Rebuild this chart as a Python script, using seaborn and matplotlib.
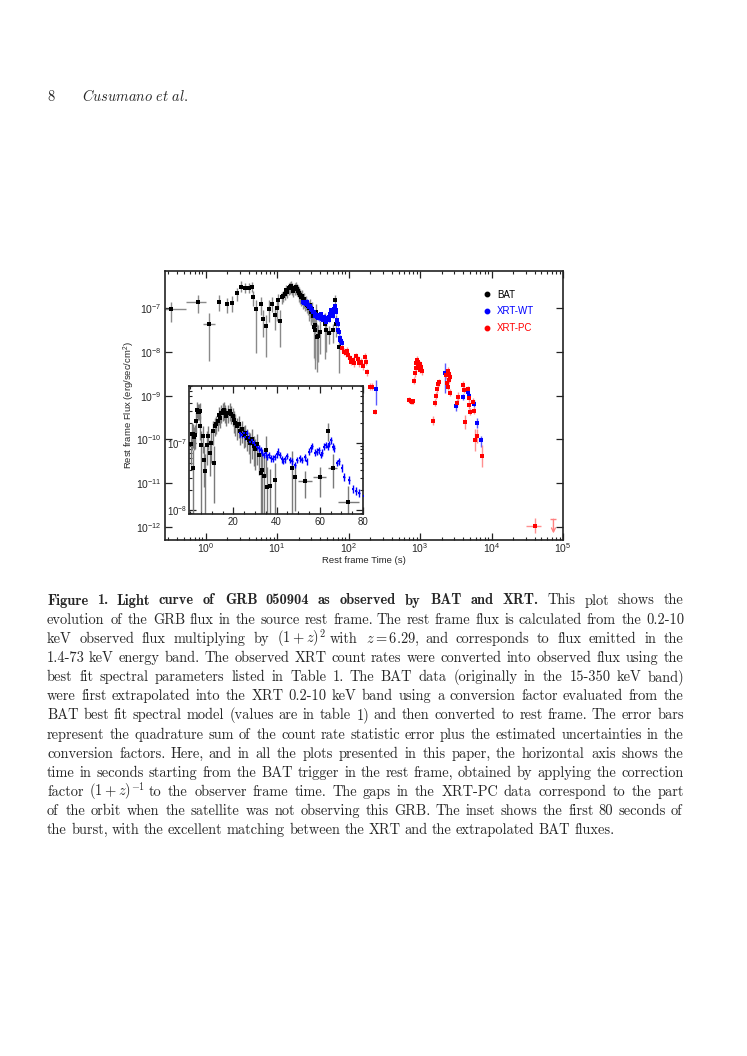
import numpy as np
import pandas as pd
import matplotlib
matplotlib.use('Agg')
import matplotlib.pyplot as plt
from matplotlib.lines import Line2D
from matplotlib.ticker import LogLocator, MultipleLocator, NullFormatter
from matplotlib.textpath import TextPath
from matplotlib.font_manager import FontProperties
import seaborn as sns

# ---- BAT (extrapolated to 0.2-10 keV, rest frame) ----
bat_time = [0.33, 0.77, 1.12, 1.55, 1.97, 2.36, 2.77, 3.15, 3.59, 4.0,
            4.4, 4.65, 5.1, 5.9, 6.3, 7.0, 7.8, 8.5, 9.3, 9.8,
            10.4, 10.9, 11.6, 12.2, 12.7, 13.2, 13.7, 14.4, 15.0, 15.7,
            16.2, 16.7, 17.5, 18.3, 19.0, 19.7, 20.3, 20.9, 21.7, 22.5,
            23.3, 24.0, 24.8, 25.6, 26.4, 27.1, 27.9, 28.6, 29.4, 30.2,
            31.0, 31.8, 32.6, 33.3, 34.1, 34.9, 35.7, 36.9, 39.5, 47.3,
            48.4, 53.2, 60.0, 63.8, 65.9, 73.2]
bat_flux_e8 = [9.5, 13.7, 4.3, 13.5, 12.3, 13.0, 21.6, 30.7, 29.0, 29.0,
               30.0, 17.7, 9.4, 12.6, 5.6, 3.8, 9.4, 12.6, 7.1, 10.0,
               15.0, 5.0, 17.7, 19.0, 21.0, 26.0, 23.6, 28.0, 29.7, 31.0,
               28.0, 25.0, 28.0, 29.7, 27.0, 25.0, 22.0, 20.0, 17.7, 19.0,
               15.0, 16.0, 13.3, 14.0, 11.9, 11.0, 10.0, 11.5, 8.9, 8.0,
               9.5, 6.7, 3.6, 4.0, 3.2, 7.9, 2.2, 2.3, 2.8, 4.3,
               3.1, 2.7, 3.1, 15.0, 4.3, 1.3]
bat_terr = [0.2, 0.24, 0.21, 0, 0, 0, 0, 0, 0, 0,
            0, 0, 0, 0, 0, 0, 0, 0, 0, 0,
            0, 0, 0, 0, 0, 0, 0, 0, 0, 0,
            0, 0, 0, 0, 0, 0, 0, 0, 0, 0,
            0, 0, 0, 0, 0, 0, 0, 0, 0, 0,
            0, 0, 0, 0, 0, 0, 0, 0, 0, 0,
            0, 3.1, 3.1, 0, 2.3, 4.8]
bat_err_hi = [0.16, 0.16, 0.26, 0.16, 0.15, 0.15, 0.13, 0.12, 0.12, 0.12,
              0.12, 0.15, 0.2, 0.15, 0.2, 0.25, 0.2, 0.15, 0.2, 0.18,
              0.15, 0.25, 0.12, 0.12, 0.12, 0.12, 0.12, 0.12, 0.12, 0.12,
              0.12, 0.12, 0.12, 0.12, 0.12, 0.12, 0.13, 0.13, 0.13, 0.13,
              0.13, 0.13, 0.13, 0.13, 0.13, 0.13, 0.15, 0.15, 0.15, 0.15,
              0.15, 0.15, 0.3, 0.3, 0.3, 0.2, 0.3, 0.25, 0.25, 0.25,
              0.2, 0.15, 0.15, 0.12, 0.2, 0.25]
bat_err_lo = [0.3, 0.24, 0.84, 0.2, 0.2, 0.2, 0.18, 0.12, 0.12, 0.12,
              0.12, 0.2, 1.0, 0.25, 0.4, 0.7, 0.3, 0.2, 0.35, 0.3,
              0.2, 0.6, 0.15, 0.15, 0.15, 0.15, 0.15, 0.15, 0.15, 0.15,
              0.15, 0.15, 0.15, 0.15, 0.15, 0.15, 0.2, 0.2, 0.2, 0.2,
              0.2, 0.2, 0.2, 0.2, 0.2, 0.2, 0.3, 0.3, 0.3, 0.3,
              0.3, 0.3, 0.7, 0.8, 0.9, 0.4, 0.8, 0.6, 0.5, 0.8,
              0.5, 0.25, 0.3, 0.15, 0.3, 0.6]

# ---- XRT Windowed Timing ----
wt_time = [23.3, 24.1, 24.8, 25.6, 26.3, 27.1, 27.9, 28.6, 29.4, 30.2,
           31.0, 31.8, 32.6, 33.3, 34.1, 34.9, 35.7, 36.5, 37.5, 38.4,
           39.2, 40.0, 40.8, 41.6, 42.3, 43.1, 43.9, 45.0, 46.2, 47.3,
           48.4, 49.6, 50.8, 51.9, 53.0, 53.9, 55.0, 55.8, 56.6, 57.7,
           58.6, 59.5, 60.5, 61.2, 62.0, 62.8, 63.6, 64.3, 65.1, 65.9,
           66.7, 67.9, 69.0, 70.1, 71.3, 73.4, 75.2, 76.7, 78.3, 80.3,
           242, 2250, 3140, 3940, 4720, 4910, 5600, 6250, 7100]
wt_flux_e8 = [14.0, 13.1, 14.0, 12.4, 14.0, 11.7, 10.5, 11.0, 9.9, 9.3,
              8.8, 8.3, 7.9, 7.2, 6.6, 7.0, 6.2, 6.6, 5.9, 5.8,
              6.2, 6.8, 7.4, 6.6, 5.7, 5.4, 5.7, 6.4, 5.6, 5.3,
              4.7, 5.6, 5.9, 5.6, 6.1, 5.3, 7.4, 8.3, 9.0, 7.2,
              7.4, 7.8, 6.6, 7.2, 8.8, 9.3, 8.8, 9.7, 11.0, 8.8,
              8.3, 5.0, 5.3, 4.3, 3.1, 2.8, 2.06, 1.9, 1.8, 1.6,
              0.14, 0.33, 0.059, 0.092, 0.12, 0.10, 0.066, 0.024, 0.0096]
wt_err_hi = [0.05, 0.05, 0.05, 0.05, 0.05, 0.05, 0.05, 0.05, 0.05, 0.05,
             0.05, 0.05, 0.05, 0.05, 0.05, 0.05, 0.05, 0.05, 0.05, 0.05,
             0.05, 0.05, 0.05, 0.05, 0.05, 0.05, 0.05, 0.05, 0.05, 0.05,
             0.05, 0.05, 0.05, 0.05, 0.05, 0.05, 0.05, 0.05, 0.05, 0.05,
             0.05, 0.05, 0.05, 0.05, 0.05, 0.05, 0.05, 0.05, 0.05, 0.05,
             0.05, 0.05, 0.05, 0.06, 0.06, 0.06, 0.06, 0.06, 0.06, 0.06,
             0.2, 0.22, 0.06, 0.07, 0.07, 0.07, 0.08, 0.1, 0.1]
wt_err_lo = [0.05, 0.05, 0.05, 0.05, 0.05, 0.05, 0.05, 0.05, 0.05, 0.05,
             0.05, 0.05, 0.05, 0.05, 0.05, 0.05, 0.05, 0.05, 0.05, 0.05,
             0.05, 0.05, 0.05, 0.05, 0.05, 0.05, 0.05, 0.05, 0.05, 0.05,
             0.05, 0.05, 0.05, 0.05, 0.05, 0.05, 0.05, 0.05, 0.05, 0.05,
             0.05, 0.05, 0.05, 0.05, 0.05, 0.05, 0.05, 0.05, 0.05, 0.05,
             0.05, 0.05, 0.05, 0.06, 0.06, 0.06, 0.06, 0.06, 0.06, 0.06,
             0.36, 0.47, 0.13, 0.07, 0.07, 0.07, 0.08, 0.13, 0.15]
WT_TERR = 0.4

# ---- XRT Photon Counting ----
pc_time = [82, 86.6, 91, 95.3, 99, 103.8, 108, 114, 120, 127,
           134, 141, 149, 158, 167, 174, 183, 200, 215, 237,
           690, 740, 775, 805, 830, 850, 870, 890, 905, 920,
           940, 960, 985, 1010, 1040, 1070, 1530, 1620, 1680, 1740,
           1800, 1860, 2330, 2370, 2420, 2450, 2500, 2550, 2600, 2630,
           3300, 3400, 4040, 4170, 4200, 4720, 4850, 4910, 4960, 5480,
           5600, 5800, 6330, 7250, 40300]
pc_flux_e8 = [1.2, 1.0, 0.93, 1.06, 0.84, 0.71, 0.60, 0.65, 0.55, 0.80,
              0.68, 0.55, 0.60, 0.47, 0.77, 0.60, 0.34, 0.16, 0.16, 0.043,
              0.079, 0.074, 0.073, 0.074, 0.216, 0.32, 0.42, 0.55, 0.66, 0.48,
              0.58, 0.44, 0.52, 0.39, 0.46, 0.36, 0.027, 0.068, 0.10, 0.14,
              0.18, 0.20, 0.295, 0.19, 0.37, 0.16, 0.31, 0.23, 0.27, 0.116,
              0.068, 0.094, 0.175, 0.135, 0.025, 0.14, 0.087, 0.061, 0.043, 0.072,
              0.045, 0.0096, 0.012, 0.0042, 0.000107]
pc_terr = [2, 2, 2, 2, 2, 2, 2, 3, 3, 3,
           3, 3, 3, 3, 3, 3, 3, 4, 4, 4,
           10, 10, 10, 10, 10, 10, 10, 10, 10, 10,
           10, 10, 10, 10, 10, 10, 20, 20, 20, 20,
           20, 20, 25, 25, 25, 25, 25, 25, 25, 25,
           40, 40, 40, 40, 40, 50, 50, 50, 50, 50,
           50, 60, 60, 60, 9700]
pc_err = [0.08, 0.08, 0.08, 0.08, 0.08, 0.08, 0.08, 0.08, 0.08, 0.08,
          0.08, 0.08, 0.08, 0.08, 0.08, 0.08, 0.08, 0.08, 0.08, 0.06,
          0.06, 0.06, 0.06, 0.06, 0.08, 0.08, 0.08, 0.08, 0.08, 0.08,
          0.08, 0.08, 0.08, 0.08, 0.08, 0.08, 0.1, 0.08, 0.08, 0.08,
          0.08, 0.08, 0.08, 0.08, 0.08, 0.08, 0.08, 0.08, 0.08, 0.08,
          0.1, 0.1, 0.08, 0.08, 0.15, 0.08, 0.08, 0.08, 0.08, 0.08,
          0.08, 0.25, 0.15, 0.25, 0.17]

# ---- upper limit ----
ul_time = [73500]
ul_flux = [1.5e-12]
ul_terr = [7500]

x_ticks_inset = [20, 40, 60, 80]

HEADER_NUM = '8'
HEADER_AUTHORS = r'$\mathit{Cusumano\ et\ al.}$'
CAPTION_BOLD = 'Figure 1. Light curve of GRB 050904 as observed by BAT and XRT.'
CAPTION_LINES = [
    'Figure 1. Light curve of GRB 050904 as observed by BAT and XRT. This plot shows the',
    'evolution of the GRB flux in the source rest frame. The rest frame flux is calculated from the 0.2-10',
    'keV observed flux multiplying by $(1+z)^2$ with $z=6.29$, and corresponds to flux emitted in the',
    '1.4-73 keV energy band. The observed XRT count rates were converted into observed flux using the',
    'best fit spectral parameters listed in Table 1. The BAT data (originally in the 15-350 keV band)',
    'were first extrapolated into the XRT 0.2-10 keV band using a conversion factor evaluated from the',
    'BAT best fit spectral model (values are in table 1) and then converted to rest frame. The error bars',
    'represent the quadrature sum of the count rate statistic error plus the estimated uncertainties in the',
    'conversion factors. Here, and in all the plots presented in this paper, the horizontal axis shows the',
    'time in seconds starting from the BAT trigger in the rest frame, obtained by applying the correction',
    'factor $(1+z)^{-1}$ to the observer frame time. The gaps in the XRT-PC data correspond to the part',
    'of the orbit when the satellite was not observing this GRB. The inset shows the first 80 seconds of',
    'the burst, with the excellent matching between the XRT and the extrapolated BAT fluxes.',
]

W, H = 747, 1056

sns.set_style('ticks')
plt.rcParams['font.family'] = ['Liberation Sans', 'DejaVu Sans']
plt.rcParams['mathtext.fontset'] = 'custom'
plt.rcParams['mathtext.rm'] = 'Liberation Sans'
plt.rcParams['mathtext.it'] = 'Liberation Sans:italic'
plt.rcParams['mathtext.bf'] = 'Liberation Sans:bold'


def draw_series(ax, t, flux_e8, terr, err_lo, err_hi, color, bar_color, marker, size):
    f = np.array(flux_e8) * 1e-8
    lo = f - f * 10 ** (-np.array(err_lo))
    hi = f * 10 ** np.array(err_hi) - f
    ax.errorbar(t, f, xerr=terr, yerr=[lo, hi], fmt='none', ecolor=bar_color,
                elinewidth=1.0, capsize=0, zorder=2)
    df = pd.DataFrame({'t': t, 'f': f})
    sns.scatterplot(data=df, x='t', y='f', ax=ax, color=color, marker=marker,
                    s=size, linewidth=0, zorder=3, legend=False)


def style_axes(ax):
    for sp in ax.spines.values():
        sp.set_linewidth(1.2)
        sp.set_color('#222222')
    ax.tick_params(which='both', direction='in', top=True, right=True,
                   color='#222222', labelsize=7, pad=2.5)
    ax.tick_params(which='major', length=5, width=0.9)
    ax.tick_params(which='minor', length=2.5, width=0.8)


fig = plt.figure(figsize=(W / 100, H / 100), dpi=100)
fig.patch.set_facecolor('white')

# ---- main light curve ----
ax = fig.add_axes([165 / W, 1 - 540 / H, 398 / W, 269 / H])
ax.set_xscale('log')
ax.set_yscale('log')
draw_series(ax, bat_time, bat_flux_e8, bat_terr, bat_err_lo, bat_err_hi,
            'black', '#8a8a8a', 's', 6)
draw_series(ax, wt_time, wt_flux_e8, WT_TERR, wt_err_lo, wt_err_hi,
            '#0000ff', '#5a5aff', 's', 5)
draw_series(ax, pc_time, pc_flux_e8, pc_terr, pc_err, pc_err,
            '#ff0000', '#ff9090', 's', 5)
ax.errorbar(ul_time, ul_flux, xerr=ul_terr, fmt='none', ecolor='#ff8080',
            elinewidth=1.0, zorder=2)
for tu, fu in zip(ul_time, ul_flux):
    ax.annotate('', xy=(tu, fu / 2.1), xytext=(tu, fu),
                arrowprops=dict(arrowstyle='->', color='#ff8080', lw=1.0,
                                shrinkA=0, shrinkB=0, mutation_scale=7))

ax.set_xlim(0.269, 1.0e5)
ax.set_ylim(5.05e-13, 7.0e-7)
style_axes(ax)
ax.tick_params(axis='both', labelsize=7.5)
ax.tick_params(axis='x', pad=1.0)
ax.xaxis.set_major_locator(LogLocator(base=10, numticks=12))
ax.xaxis.set_minor_locator(LogLocator(base=10, subs=np.arange(2, 10), numticks=12))
ax.xaxis.set_minor_formatter(NullFormatter())
ax.yaxis.set_major_locator(LogLocator(base=10, numticks=12))
ax.yaxis.set_minor_locator(plt.NullLocator())
ax.set_xlabel('Rest frame Time (s)', fontsize=6.8, va='top')
ax.set_ylabel('Rest frame Flux (erg/sec/cm$^2$)', fontsize=6.8)
ax.xaxis.set_label_coords(0.5, -0.06)
ax.yaxis.set_label_coords(-0.071, 0.5)

handles = [Line2D([], [], marker='o', ls='none', color=c, ms=3.2)
           for c in ['black', '#0000ff', '#ff0000']]
ax.legend(handles, ['BAT', 'XRT-WT', 'XRT-PC'], loc='upper left',
          bbox_to_anchor=(0.797, 0.93), frameon=False, fontsize=7,
          labelcolor=['black', '#0000ff', '#ff0000'], handlelength=1.0,
          handletextpad=0.55, labelspacing=0.68, borderpad=0, borderaxespad=0)

# ---- inset: first 80 s ----
axi = fig.add_axes([189 / W, 1 - 514 / H, 174 / W, 128 / H])
axi.set_facecolor('white')
axi.set_yscale('log')
draw_series(axi, bat_time, bat_flux_e8, bat_terr, bat_err_lo, bat_err_hi,
            'black', '#7a7a7a', 's', 5)
draw_series(axi, wt_time, wt_flux_e8, WT_TERR, wt_err_lo, wt_err_hi,
            '#0000ff', '#0000ff', 's', 4)
axi.set_xlim(-0.5, 80)
axi.set_ylim(8.7e-9, 7.1e-7)
style_axes(axi)
axi.tick_params(axis='y', pad=1.5)
axi.tick_params(axis='x', pad=2.0)
axi.set_xticks(x_ticks_inset)
axi.xaxis.set_minor_locator(MultipleLocator(5))
axi.yaxis.set_major_locator(LogLocator(base=10, numticks=12))
axi.yaxis.set_minor_locator(LogLocator(base=10, subs=np.arange(2, 10), numticks=12))
axi.yaxis.set_minor_formatter(NullFormatter())
axi.set_xlabel('')
axi.set_ylabel('')


# ---- page header and caption ----
def word_width(s, fam, fs):
    # width of the glyph outlines, in pixels at 100 dpi
    prop = FontProperties(family=fam, size=fs, math_fontfamily='cm')
    path = TextPath((0, 0), s, size=fs, prop=prop)
    return path.get_extents().width * 100 / 72


n_bold = len(CAPTION_BOLD.split(' '))
LEFT, RIGHT = 47, 683
cap_fs = 10.4
space = 0.333 * cap_fs * 100 / 72
min_gap = 0.8 * space

base0, step = 604.5, 19.15
last = len(CAPTION_LINES) - 1
for i, line in enumerate(CAPTION_LINES):
    words = line.split(' ')
    fams = ['cmb10' if (i == 0 and k < n_bold) else 'cmr10' for k in range(len(words))]
    line_fs = cap_fs
    ws = [word_width(w, f, line_fs) for w, f in zip(words, fams)]
    n_gaps = len(ws) - 1
    if i < last:
        room = RIGHT - LEFT - min_gap * n_gaps
        if sum(ws) > room:
            # overfull line: shrink its type a touch instead of squeezing words together
            line_fs = cap_fs * room / sum(ws)
            ws = [word_width(w, f, line_fs) for w, f in zip(words, fams)]
        gap = (RIGHT - LEFT - sum(ws)) / n_gaps
    else:
        gap = space
    x = LEFT
    y = 1 - (base0 + i * step) / H
    for w, f, wd in zip(words, fams, ws):
        fig.text(x / W, y, w, fontfamily=f, fontsize=line_fs, math_fontfamily='cm',
                 ha='left', va='baseline')
        x += wd + gap

fig.text(47 / W, 1 - 101 / H, HEADER_NUM, fontfamily='cmr10', fontsize=cap_fs,
         ha='left', va='baseline')
fig.text(82 / W, 1 - 101 / H, HEADER_AUTHORS, fontsize=10.4, math_fontfamily='cm',
         ha='left', va='baseline')

fig.savefig('out.png', dpi=100, facecolor='white')
